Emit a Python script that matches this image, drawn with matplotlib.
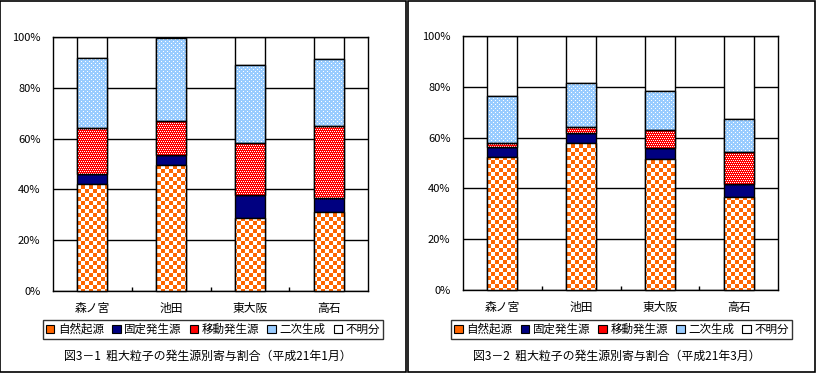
import numpy as np
import matplotlib
matplotlib.use("Agg")
import matplotlib.pyplot as plt
from matplotlib.patches import Patch, Rectangle

plt.rcParams['font.family'] = ['Noto Sans CJK JP', 'DejaVu Sans']

sites = ["森ノ宮", "池田", "東大阪", "高石"]
sources = ["自然起源", "固定発生源", "移動発生源", "二次生成", "不明分"]
yticks = [0, 20, 40, 60, 80, 100]
ytick_labels = ["0%", "20%", "40%", "60%", "80%", "100%"]

# 平成21年1月
jan_natural = [42.2, 49.7, 28.6, 31.1]
jan_fixed = [3.7, 3.7, 9.1, 5.6]
jan_mobile = [18.1, 13.4, 20.4, 28.1]
jan_secondary = [27.9, 32.7, 30.7, 26.4]
jan_unknown = [8.1, 0.5, 11.2, 8.8]

# 平成21年3月
mar_natural = [52.5, 58.0, 51.7, 36.5]
mar_fixed = [3.9, 3.7, 4.2, 5.2]
mar_mobile = [1.6, 2.6, 7.2, 12.5]
mar_secondary = [18.4, 17.3, 15.4, 13.3]
mar_unknown = [23.6, 18.4, 21.5, 32.5]

captions = ["図3－1  粗大粒子の発生源別寄与割合（平成21年1月）",
            "図3－2  粗大粒子の発生源別寄与割合（平成21年3月）"]

W, H = 816, 373
AX_W, AX_H = 315, 254


def pattern(kind):
    # pixel pattern, placed unresampled with figimage
    yy, xx = np.mgrid[0:AX_H, 0:AX_W]
    img = np.ones((AX_H, AX_W, 3))
    if kind == "check":
        on = ((xx // 4) + (yy // 4)) % 2 == 0
        img[on] = [1.0, 0.4, 0.0]
    elif kind == "red":
        img[:] = [1.0, 0.0, 0.0]
        dot = (yy % 2 == 0) & ((xx + yy // 2) % 2 == 0)
        img[dot] = [1, 1, 1]
    elif kind == "blue":
        img[:] = [0.6, 0.8, 1.0]
        dot = ((yy % 4 == 0) & (xx % 4 == 0)) | ((yy % 4 == 2) & (xx % 4 == 2))
        img[dot] = [1, 1, 1]
    return img


fills = [("check", "#FF6600"), (None, "#000080"), ("red", "#FF0000"),
         ("blue", "#99CCFF"), (None, "white")]
patterns = {k: pattern(k) for k, _ in fills if k is not None}

fig = plt.figure(figsize=(W / 100, H / 100), dpi=100)

panels = [
    (53, 37, [jan_natural, jan_fixed, jan_mobile, jan_secondary, jan_unknown], 0, 406),
    (463, 36, [mar_natural, mar_fixed, mar_mobile, mar_secondary, mar_unknown], 408, 815),
]

for i, (ax_x, ax_y, series, px0, px1) in enumerate(panels):
    ax_bottom = H - ax_y - AX_H
    ax = fig.add_axes([ax_x / W, ax_bottom / H, AX_W / W, AX_H / H])
    x = np.arange(len(sites))
    bottom = np.zeros(len(sites))
    for vals, (pat, col) in zip(series, fills):
        bars = ax.bar(x, vals, 0.38, bottom=bottom, color=col, edgecolor="black",
                      linewidth=1.0, zorder=2)
        if pat is not None:
            for b in bars:
                im = fig.figimage(patterns[pat], xo=ax_x, yo=ax_bottom, origin="upper", zorder=1)
                im.set_clip_path(b)
                fig.add_artist(Rectangle((b.get_x(), b.get_y()), b.get_width(), b.get_height(),
                                         transform=ax.transData, fill=False,
                                         edgecolor="black", linewidth=1.0, zorder=2))
        bottom += np.array(vals)

    ax.set_xlim(-0.5, 3.5)
    ax.set_ylim(0, 100)
    ax.set_yticks(yticks)
    ax.set_yticklabels(ytick_labels, fontsize=8)
    ax.set_xticks(x)
    ax.set_xticklabels(sites, fontsize=8.5)
    ax.set_xticks([0.5, 1.5, 2.5], minor=True)
    ax.tick_params(axis="x", which="major", length=0, pad=8)
    ax.tick_params(axis="x", which="minor", length=3, direction="in", width=1)
    ax.tick_params(axis="y", length=0, pad=9)
    ax.grid(axis="y", color="black", linewidth=1.0, zorder=0)
    ax.set_axisbelow(True)
    for s in ax.spines.values():
        s.set_linewidth(1.0)
        s.set_color("black")

    cx = (px0 + px1) / 2 / W
    handles = [Patch(facecolor=c, edgecolor="black", linewidth=0.8) for _, c in fills]
    leg = fig.legend(handles, sources, loc="center", bbox_to_anchor=(cx + 10 / W, (H - 329.5) / H),
                     ncol=5, fontsize=8.3, frameon=True, fancybox=False,
                     handlelength=0.75, handleheight=0.75, handletextpad=0.3,
                     columnspacing=0.7, borderpad=0.25, borderaxespad=0)
    leg.get_frame().set_edgecolor("black")
    leg.get_frame().set_linewidth(1.0)

    fig.text(cx + 5 / W, (H - 356) / H, captions[i], ha="center", va="center", fontsize=8.6)

    fig.add_artist(Rectangle((px0 / W, 1 / H), (px1 - px0) / W, (H - 1.5) / H,
                             transform=fig.transFigure, fill=False,
                             edgecolor="black", linewidth=1.2))

fig.savefig("out.png", dpi=100)
